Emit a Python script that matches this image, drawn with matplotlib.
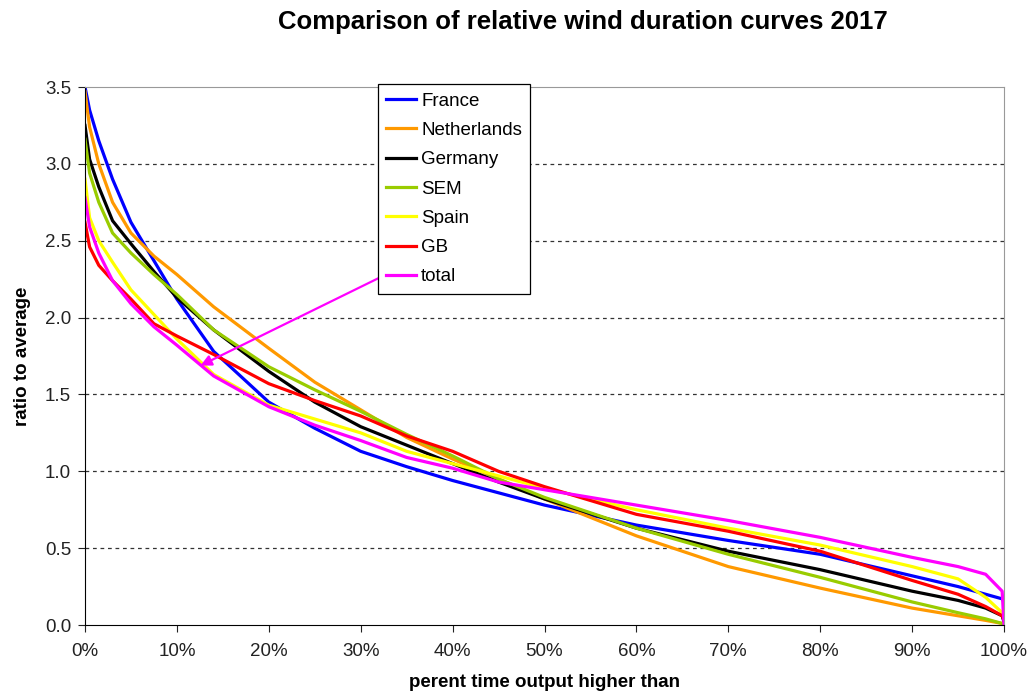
import matplotlib
matplotlib.use("Agg")
import matplotlib.pyplot as plt
from matplotlib.ticker import PercentFormatter, MultipleLocator

plt.rcParams['font.family'] = ['Liberation Sans', 'DejaVu Sans']

# percent of time output higher than
pct = [0, 0.5, 1.5, 3, 5, 7.5, 10, 14, 20, 25, 30, 35, 40, 45, 50, 60, 70, 80, 90, 95, 98, 99.8, 100]

# ratio to average
france = [3.50, 3.35, 3.15, 2.90, 2.62, 2.37, 2.12, 1.78, 1.45, 1.28, 1.13, 1.03, 0.94, 0.86, 0.78,
          0.65, 0.55, 0.46, 0.32, 0.25, 0.20, 0.17, 0.15]
netherlands = [3.47, 3.24, 3.00, 2.75, 2.55, 2.40, 2.28, 2.07, 1.80, 1.58, 1.40, 1.22, 1.08, 0.95, 0.82,
               0.58, 0.38, 0.24, 0.11, 0.06, 0.03, 0.01, 0.00]
germany = [3.25, 3.03, 2.85, 2.63, 2.48, 2.30, 2.13, 1.92, 1.65, 1.45, 1.29, 1.17, 1.05, 0.93, 0.82,
           0.63, 0.48, 0.36, 0.22, 0.16, 0.11, 0.06, 0.02]
sem = [3.16, 2.94, 2.75, 2.55, 2.42, 2.28, 2.15, 1.92, 1.68, 1.53, 1.39, 1.24, 1.10, 0.95, 0.83,
       0.63, 0.46, 0.31, 0.15, 0.08, 0.04, 0.01, 0.00]
spain = [2.90, 2.65, 2.50, 2.36, 2.18, 2.02, 1.86, 1.63, 1.43, 1.34, 1.25, 1.13, 1.05, 0.97, 0.89,
         0.75, 0.63, 0.52, 0.38, 0.30, 0.18, 0.08, 0.05]
gb = [2.62, 2.46, 2.34, 2.24, 2.12, 1.96, 1.88, 1.76, 1.57, 1.46, 1.36, 1.23, 1.13, 1.00, 0.90,
      0.72, 0.61, 0.48, 0.29, 0.20, 0.12, 0.06, 0.03]
total = [2.78, 2.59, 2.42, 2.24, 2.09, 1.94, 1.82, 1.62, 1.42, 1.30, 1.20, 1.09, 1.02, 0.93, 0.88,
         0.78, 0.68, 0.57, 0.44, 0.38, 0.33, 0.22, 0.00]

series = [("France", france, "#0000FF"),
          ("Netherlands", netherlands, "#FF9900"),
          ("Germany", germany, "#000000"),
          ("SEM", sem, "#99CC00"),
          ("Spain", spain, "#FFFF00"),
          ("GB", gb, "#FF0000"),
          ("total", total, "#FF00FF")]

fig = plt.figure(figsize=(10.32, 6.99), dpi=100)
ax = fig.add_axes([85 / 1032, 1 - 625 / 699, (1004 - 85) / 1032, (625 - 87) / 699])

for name, vals, col in series:
    ax.plot(pct, vals, color=col, lw=2.3, label=name)

# leader arrow from legend entry to the total curve
ax.annotate("", xy=(12.3, 1.68), xytext=(32.4, 2.27),
            arrowprops=dict(arrowstyle="-|>", color="#FF00FF", lw=1.6, mutation_scale=16))

ax.set_xlim(0, 100)
ax.set_ylim(0, 3.5)
ax.xaxis.set_major_locator(MultipleLocator(10))
ax.xaxis.set_major_formatter(PercentFormatter(decimals=0))
ax.yaxis.set_major_locator(MultipleLocator(0.5))
ax.yaxis.set_major_formatter(plt.FuncFormatter(lambda v, p: f"{v:.1f}"))
ax.tick_params(axis="both", direction="out", length=5, labelsize=13.5, colors="#222222", pad=5)
ax.tick_params(axis="x", pad=8)

for y in [0.5, 1.0, 1.5, 2.0, 2.5, 3.0]:
    ax.axhline(y, color="#333333", lw=0.9, ls=(0, (3, 3)), zorder=0)

ax.spines["left"].set_color("black")
ax.spines["bottom"].set_color("black")
ax.spines["top"].set_color("#999999")
ax.spines["right"].set_color("#999999")

ax.set_ylabel("ratio to average", fontsize=13.5, fontweight="bold", labelpad=10)
ax.set_xlabel("perent time output higher than", fontsize=13.5, fontweight="bold", labelpad=10)

fig.text(583 / 1032, 1 - 22 / 699, "Comparison of relative wind duration curves 2017",
         ha="center", va="center", fontsize=18.5, fontweight="bold")

leg = ax.legend(loc="upper left", bbox_to_anchor=(378 / 1032, 1 - 84 / 699),
                bbox_transform=fig.transFigure, frameon=True, fancybox=False,
                fontsize=13.5, handlelength=1.55, labelspacing=0.65, handletextpad=0.3,
                borderpad=0.45, borderaxespad=0)
leg.get_frame().set_edgecolor("black")
leg.get_frame().set_linewidth(0.9)
leg.get_frame().set_alpha(1)

fig.savefig("out.png", dpi=100)
